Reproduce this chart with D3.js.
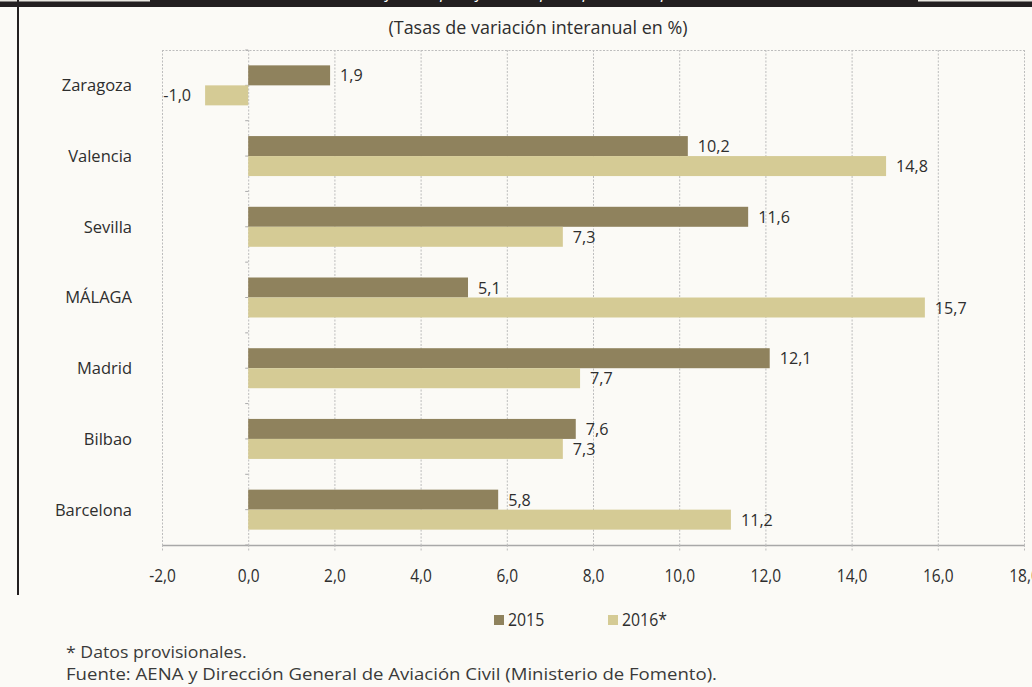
<!DOCTYPE html>
<html><head><meta charset="utf-8">
<script src="https://cdn.jsdelivr.net/npm/d3@7"></script>
<style>
html,body{margin:0;padding:0;background:#fbfaf6;}
svg{display:block;}
</style></head>
<body>
<svg id="c" width="1032" height="687"></svg>
<script>
const categories = ["Zaragoza","Valencia","Sevilla","MÁLAGA","Madrid","Bilbao","Barcelona"];
const series2015 = [1.9,10.2,11.6,5.1,12.1,7.6,5.8];
const series2016 = [-1.0,14.8,7.3,15.7,7.7,7.3,11.2];
const seriesNames = ["2015","2016*"];
const tickValues = [-2,0,2,4,6,8,10,12,14,16,18];

const colors = ["#8f825d","#d5cb95"];
const fmt = v => d3.format(".1f")(v).replace(".", ",").replace("−","-");
const font = "'Open Sans','Noto Sans',sans-serif";
const ink = "#2e2e2e";

function squeeze(sel, k){
  sel.each(function(){
    const w = this.getComputedTextLength();
    d3.select(this).attr("textLength", w*k).attr("lengthAdjust","spacingAndGlyphs");
  });
}

const svg = d3.select("#c");
svg.append("rect").attr("width",1032).attr("height",687).attr("fill","#fbfaf6");

// top frame
svg.append("rect").attr("x",0).attr("y",0).attr("width",1032).attr("height",7).attr("fill","#231f20");
svg.append("rect").attr("x",0).attr("y",0).attr("width",150).attr("height",1.5).attr("fill","#e8e6e0");
svg.append("rect").attr("x",918).attr("y",0).attr("width",114).attr("height",1.5).attr("fill","#e8e6e0");
svg.append("text").attr("x",540).attr("y",-2).attr("text-anchor","middle")
  .attr("font-family",font).attr("font-style","italic").attr("font-size",17).attr("fill","#fff")
  .text("Tráfico de pasajeros en principales aeropuertos");
svg.append("rect").attr("x",17).attr("y",0).attr("width",2).attr("height",595).attr("fill","#231f20");

svg.append("text").attr("x",538).attr("y",34).attr("text-anchor","middle")
  .attr("font-family",font).attr("font-size",18).attr("fill",ink)
  .text("(Tasas de variación interanual en %)")
  .attr("textLength",299).attr("lengthAdjust","spacingAndGlyphs");

const x = d3.scaleLinear().domain([-2,18]).range([162,1024]);
const y = d3.scaleBand().domain(categories).range([50,545]);
const sub = d3.scaleBand().domain(seriesNames).range([0,40]);
const off = (y.bandwidth()-40)/2;

const g = svg.append("g");
// grid
g.selectAll("line.grid").data(tickValues).join("line")
  .attr("x1",d=>x(d)+0.5).attr("x2",d=>x(d)+0.5).attr("y1",50).attr("y2",545)
  .attr("stroke","#bdbdbd").attr("stroke-dasharray","2,1.5").attr("stroke-width",1);
g.append("line").attr("x1",x(-2)).attr("x2",x(18)).attr("y1",50.5).attr("y2",50.5)
  .attr("stroke","#bdbdbd").attr("stroke-dasharray","2,1.5");

// x axis
const xAxis = d3.axisBottom(x).tickValues(tickValues).tickFormat(fmt).tickSize(7).tickSizeOuter(0);
const ax = svg.append("g").attr("transform","translate(0,545)").call(xAxis);
ax.select(".domain").attr("stroke","#a8a8a8").attr("stroke-width",1.5);
ax.selectAll(".tick line").attr("stroke","#bdbdbd").attr("stroke-dasharray","2,1.5");
ax.selectAll(".tick text").attr("font-family",font).attr("font-size",18).attr("fill",ink)
  .attr("y",24).attr("dy","0.71em").call(squeeze,0.86);

// category minor ticks on zero axis
const bounds = d3.range(categories.length*2+1).map(i => 50 + i*y.step()/2);
g.selectAll("line.ct").data(bounds).join("line")
  .attr("x1",x(0)-3).attr("x2",x(0)).attr("y1",d=>d).attr("y2",d=>d)
  .attr("stroke","#aaa").attr("stroke-width",1);

// bars
const data = categories.map((c,i)=>({c, vals:[series2015[i],series2016[i]]}));
const rows = svg.append("g").selectAll("g").data(data).join("g")
  .attr("transform",d=>`translate(0,${y(d.c)+off})`);
rows.selectAll("rect").data(d=>d.vals.map((v,j)=>({v,s:seriesNames[j],j}))).join("rect")
  .attr("x",d=>x(Math.min(0,d.v))).attr("width",d=>Math.abs(x(d.v)-x(0)))
  .attr("y",d=>sub(d.s)).attr("height",sub.bandwidth())
  .attr("fill",d=>colors[d.j]);
rows.selectAll("text").data(d=>d.vals.map((v,j)=>({v,s:seriesNames[j],j}))).join("text")
  .attr("x",d=>d.v>=0 ? x(d.v)+10 : x(d.v)-14)
  .attr("text-anchor",d=>d.v>=0?"start":"end")
  .attr("y",d=>sub(d.s)+sub.bandwidth()/2)
  .attr("dy","0.36em")
  .attr("font-family",font).attr("font-size",17).attr("fill",ink)
  .text(d=>fmt(d.v)).call(squeeze,0.95);

// category labels
svg.append("g").selectAll("text").data(categories).join("text")
  .attr("x",132).attr("y",d=>y(d)+y.bandwidth()/2).attr("dy","0.36em")
  .attr("text-anchor","end").attr("font-family",font).attr("font-size",16.5).attr("fill",ink)
  .text(d=>d);

// legend
const lg = svg.append("g").selectAll("g").data(seriesNames).join("g")
  .attr("transform",(d,i)=>`translate(${494+i*114},620)`);
lg.append("rect").attr("x",0).attr("y",-5).attr("width",10).attr("height",10).attr("fill",(d,i)=>colors[i]);
lg.append("text").attr("x",14).attr("y",0).attr("dy","0.36em")
  .attr("font-family",font).attr("font-size",18).attr("fill",ink).text(d=>d).call(squeeze,0.88);

// footnotes
const notes = ["* Datos provisionales.","Fuente: AENA y Dirección General de Aviación Civil (Ministerio de Fomento)."];
svg.append("g").selectAll("text").data(notes).join("text")
  .attr("x",66).attr("y",(d,i)=>658+i*22)
  .attr("font-family",font).attr("font-size",17).attr("fill","#3a3a3a").text(d=>d)
  .each(function(d,i){
    if(i===1){ d3.select(this).attr("textLength",651).attr("lengthAdjust","spacingAndGlyphs"); }
    else { const w=this.getComputedTextLength(); d3.select(this).attr("textLength",w*1.04).attr("lengthAdjust","spacingAndGlyphs"); }
  });
</script>
</body></html>
